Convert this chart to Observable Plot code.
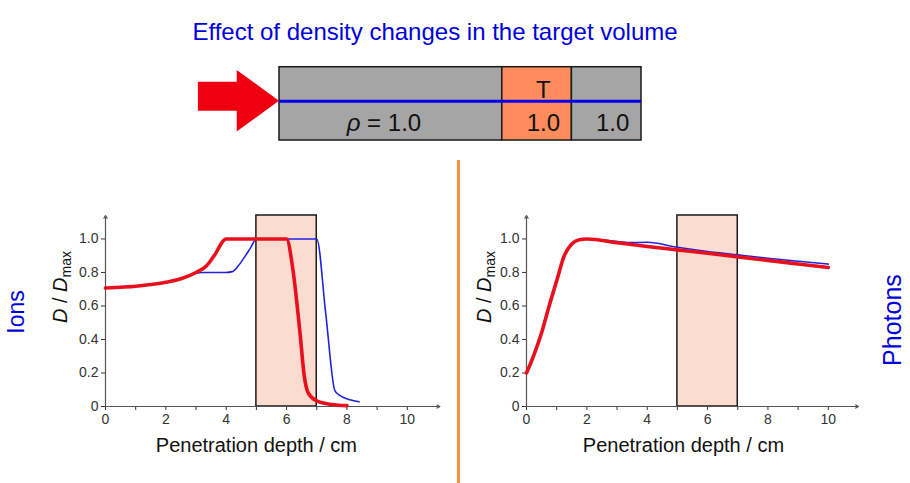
<!DOCTYPE html>
<html>
<head>
<meta charset="utf-8">
<script src="https://cdn.jsdelivr.net/npm/d3@7"></script>
<script src="https://cdn.jsdelivr.net/npm/@observablehq/plot@0.6"></script>
<style>
  html, body { margin: 0; padding: 0; background: #fff; }
  #wrap { position: relative; width: 910px; height: 483px; overflow: hidden; background: #fff;
          font-family: "Liberation Sans", Arial, Helvetica, sans-serif; }
  .abs { position: absolute; }
  #title { left: 0; width: 870px; top: 20px; text-align: center; font-size: 24px; line-height: 24px; color: #0000dd; }
  .rot { position: absolute; transform: translate(-50%, -50%) rotate(-90deg); white-space: nowrap; line-height: 1; }
  .side { color: #0000dd; }
  .ylab { font-size: 20px; color: #111; }
  .ylab sub { font-size: 14px; vertical-align: -4px; }
  #divider { left: 457px; top: 160px; width: 3px; height: 323px; background: #f39240; }
</style>
</head>
<body>
<div id="wrap">
  <div id="title" class="abs">Effect of density changes in the target volume</div>
  <div id="diagram" class="abs" style="left:180px; top:60px;"></div>
  <div id="divider" class="abs"></div>
  <div id="ions" class="abs" style="left:0px; top:180px;"></div>
  <div id="photons" class="abs" style="left:460px; top:180px;"></div>
  <div class="rot side" style="left:16px; top:312px; font-size:23px;">Ions</div>
  <div class="rot side" style="left:892px; top:320px; font-size:25px;">Photons</div>
  <div class="rot ylab" style="left:61px; top:287px;"><i>D</i> / <i>D</i><sub>max</sub></div>
  <div class="rot ylab" style="left:485px; top:287px;"><i>D</i> / <i>D</i><sub>max</sub></div>
</div>
<script>
// ---------- data ----------
// Diagram slabs (arbitrary depth units along beam)
const slabX1 = [0, 6.4, 8.4];
const slabX2 = [6.4, 8.4, 10.4];
const slabFill = ["#a5a5a5", "#ff8c5c", "#a5a5a5"];
const diagramLabels = ["ρ = 1.0", "T", "1.0", "1.0"];
const diagramLabelX = [3.0, 7.58, 7.58, 9.57];
const diagramLabelY = [0.46, 1.36, 0.46, 0.46];
const beamLevel = 1.07;
const arrowX = [-2.33, -1.215, -1.215, 0];
const arrowLo = [0.80, 0.80, 0.23, 1.07];
const arrowHi = [1.59, 1.59, 1.91, 1.07];

// Ions depth-dose curves
const ionsBlueX = [0, 0.5, 1, 1.5, 2, 2.5, 3, 3.2, 3.6, 4.0, 4.2, 4.4, 4.6, 4.8, 5.0, 6.0, 7.0, 7.3, 7.6, 7.75, 7.9, 8.1, 8.4];
const ionsBlueY = [0.707, 0.712, 0.718, 0.728, 0.741, 0.762, 0.795, 0.80, 0.80, 0.80, 0.805, 0.84, 0.89, 0.945, 1.0, 1.0, 1.0, 0.55, 0.095, 0.068, 0.052, 0.04, 0.028];
const ionsRedX = [0, 0.5, 1, 1.5, 2, 2.5, 3, 3.35, 3.6, 4.0, 5.0, 6.0, 6.2, 6.45, 6.58, 6.72, 7.0, 7.5, 8.0];
const ionsRedY = [0.707, 0.712, 0.718, 0.728, 0.741, 0.762, 0.80, 0.84, 0.90, 1.0, 1.0, 1.0, 0.83, 0.43, 0.19, 0.08, 0.034, 0.012, 0.005];

// Photons depth-dose curves
const photBlueX = [0, 0.25, 0.5, 0.75, 1.0, 1.25, 1.5, 1.75, 2.0, 3, 3.5, 4, 5, 6, 7, 8, 9, 10];
const photBlueY = [0.20, 0.31, 0.44, 0.60, 0.75, 0.90, 0.97, 0.995, 1.0, 0.985, 0.978, 0.98, 0.95, 0.925, 0.905, 0.885, 0.867, 0.85];
const photRedX = [0, 0.25, 0.5, 0.75, 1.0, 1.25, 1.5, 1.75, 2.0, 3, 4, 5, 6, 7, 8, 9, 10];
const photRedY = [0.20, 0.31, 0.44, 0.60, 0.75, 0.90, 0.97, 0.995, 1.0, 0.978, 0.955, 0.935, 0.915, 0.893, 0.872, 0.851, 0.83];

// Target region and axes
const targetStart = 5, targetEnd = 7;
const xTickValues = [0, 1, 2, 3, 4, 5, 6, 7, 8, 9, 10];
const xTickLabels = ["0", "", "2", "", "4", "", "6", "", "8", "", "10"];
const yTickValues = [0, 0.2, 0.4, 0.6, 0.8, 1.0];
const yTickLabels = ["0", "0.2", "0.4", "0.6", "0.8", "1.0"];
const xDomain = [0, 11.1];
const yDomain = [0, 1.14];
const xAxisEndIons = 11.08, xAxisEndPhotons = 11.0;
const xLabelText = "Penetration depth / cm";

// ---------- helpers ----------
const zip = (xs, ys) => xs.map((x, i) => ({x, y: ys[i]}));
const lookup = (vals, labels) => d => { const i = vals.findIndex(v => Math.abs(v - d) < 1e-9); return i >= 0 ? labels[i] : ""; };

// ---------- diagram ----------
const slabs = slabX1.map((x1, i) => ({x1, x2: slabX2[i], y1: 0, y2: 2, fill: slabFill[i]}));
const labelsData = diagramLabels.map((t, i) => ({t, x: diagramLabelX[i], y: diagramLabelY[i]}));
const arrowData = arrowX.map((x, i) => ({x, lo: arrowLo[i], hi: arrowHi[i]}));
const beam = [{y: beamLevel, x1: slabX1[0], x2: slabX2[slabX2.length - 1]}];

const diagram = Plot.plot({
  width: 470, height: 85,
  marginLeft: 0, marginRight: 0, marginTop: 0, marginBottom: 0,
  x: {domain: [-2.844, 10.658], axis: null},
  y: {domain: [-0.136, 2.183], axis: null},
  color: {type: "identity"},
  style: {background: "transparent", fontFamily: "Liberation Sans, Arial, sans-serif", overflow: "visible"},
  marks: [
    Plot.rect(slabs, {x1: "x1", x2: "x2", y1: "y1", y2: "y2", fill: "fill", stroke: "#1a1a1a", strokeWidth: 1.5}),
    Plot.ruleY(beam, {y: "y", x1: "x1", x2: "x2", stroke: "#0000ee", strokeWidth: 3}),
    Plot.area(arrowData, {x1: "x", y1: "lo", y2: "hi", fill: "#ee0010", curve: "linear"}),
    Plot.text(labelsData, {x: "x", y: "y", text: "t", fontSize: 24, fill: "#111"})
  ]
});
// italic rho, as in the reference
diagram.querySelectorAll("text").forEach(t => {
  if (t.textContent.startsWith("ρ")) {
    const rest = t.textContent.slice(1);
    t.textContent = "";
    const a = document.createElementNS("http://www.w3.org/2000/svg", "tspan");
    a.setAttribute("font-style", "italic");
    a.textContent = "ρ";
    const b = document.createElementNS("http://www.w3.org/2000/svg", "tspan");
    b.textContent = rest;
    t.appendChild(a); t.appendChild(b);
  }
});
document.getElementById("diagram").appendChild(diagram);

// ---------- charts ----------
function chart({width, marginLeft, marginRight, blue, red, axisEnd, labelX}) {
  const svg = Plot.plot({
    width, height: 300,
    marginLeft, marginRight, marginTop: 35, marginBottom: 74,
    style: {background: "transparent", fontFamily: "Liberation Sans, Arial, sans-serif", fontSize: "14px", color: "#333", overflow: "visible"},
    x: {domain: xDomain, ticks: xTickValues, tickFormat: lookup(xTickValues, xTickLabels), tickSize: 4, tickPadding: 4, label: null},
    y: {domain: yDomain, ticks: yTickValues, tickFormat: lookup(yTickValues, yTickLabels), tickSize: 4, tickPadding: 3, label: null},
    marks: [
      Plot.rect([{x1: targetStart, x2: targetEnd, y1: 0, y2: yDomain[1]}], {x1: "x1", x2: "x2", y1: "y1", y2: "y2", fill: "#fbdcce", stroke: "#1a1a1a", strokeWidth: 1.5}),
      Plot.arrow([{x1: 0, y1: 0, x2: axisEnd, y2: 0}, {x1: 0, y1: 0, x2: 0, y2: yDomain[1]}],
        {x1: "x1", y1: "y1", x2: "x2", y2: "y2", stroke: "#555", strokeWidth: 1.2, headLength: 4, headAngle: 60}),
      Plot.line(blue, {x: "x", y: "y", stroke: "#2222dd", strokeWidth: 1.6, curve: "monotone-x"}),
      Plot.line(red, {x: "x", y: "y", stroke: "#e8101c", strokeWidth: 3.6, curve: "monotone-x"}),
      Plot.text([{x: labelX, t: xLabelText}], {x: "x", text: "t", frameAnchor: "bottom", dy: 45, fontSize: 20, fill: "#111"})
    ]
  });
  // larger tick labels, as in the reference
  svg.querySelectorAll('g[aria-label$="tick label"]').forEach(g => {
    g.setAttribute("font-size", "14");
    g.style.fontSize = "14px";
  });
  return svg;
}

document.getElementById("ions").appendChild(chart({
  width: 450, marginLeft: 105, marginRight: 10,
  blue: zip(ionsBlueX, ionsBlueY), red: zip(ionsRedX, ionsRedY),
  axisEnd: xAxisEndIons, labelX: 5.0
}));
document.getElementById("photons").appendChild(chart({
  width: 420, marginLeft: 66, marginRight: 19,
  blue: zip(photBlueX, photBlueY), red: zip(photRedX, photRedY),
  axisEnd: xAxisEndPhotons, labelX: 5.2
}));
</script>
</body>
</html>
